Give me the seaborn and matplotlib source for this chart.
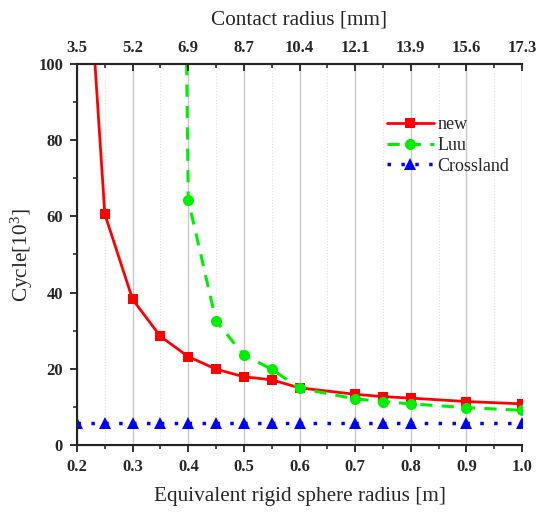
import numpy as np
import pandas as pd
import matplotlib
matplotlib.use("Agg")
import matplotlib.pyplot as plt
import seaborn as sns
from matplotlib.ticker import MultipleLocator, FixedLocator

# sphere radius [m]
radius = [0.2, 0.25, 0.3, 0.35, 0.4, 0.45, 0.5, 0.55, 0.6, 0.7, 0.75, 0.8, 0.9, 1.0]
# cycle [10^3]
cycle_new = [172, 60.6, 38.2, 28.5, 23.2, 19.9, 17.9, 17.1, 15.0, 13.3, 12.7, 12.3, 11.4, 10.8]
cycle_luu = [np.nan, np.nan, np.nan, 680, 64.3, 32.5, 23.6, 19.9, 14.9, 12.1, 11.4, 10.8, 9.8, 9.1]
cycle_crossland = [5.7] * 14

top_ticks = [0.2, 0.3, 0.4, 0.5, 0.6, 0.7, 0.8, 0.9, 1.0]
contact_labels = ["3.5", "5.2", "6.9", "8.7", "10.4", "12.1", "13.9", "15.6", "17.3"]

sns.set_style("ticks")
plt.rcParams["font.family"] = ["Liberation Serif", "DejaVu Serif"]
plt.rcParams["mathtext.fontset"] = "stix"

df = pd.DataFrame({"r": radius, "new": cycle_new, "Luu": cycle_luu, "Crossland": cycle_crossland})

fig = plt.figure(figsize=(5.37, 5.12), dpi=100)
ax = fig.add_axes([0.1434, 0.1309, 0.8287, 0.7441])

sns.lineplot(data=df, x="r", y="new", ax=ax, color="#ff0000", linewidth=2,
             marker="s", markersize=7, markeredgewidth=0, label="new")
sns.lineplot(data=df, x="r", y="Luu", ax=ax, color="#00ee00", linewidth=2.2,
             linestyle=(0, (4, 3)), marker="o", markersize=8, markeredgewidth=0, label="Luu")
sns.lineplot(data=df, x="r", y="Crossland", ax=ax, color="#0000ff", linewidth=2.5,
             linestyle=(0, (1, 3)), marker="^", markersize=8, markeredgewidth=0, label="Crossland")

ax.set_xlim(0.2, 1.0)
ax.set_ylim(0, 100)
ax.xaxis.set_major_locator(MultipleLocator(0.1))
ax.xaxis.set_minor_locator(MultipleLocator(0.05))
ax.yaxis.set_major_locator(MultipleLocator(20))
ax.yaxis.set_minor_locator(MultipleLocator(10))

ax.grid(which="major", axis="x", color="#c8c8c8", linewidth=1, linestyle="-")
ax.grid(which="minor", axis="x", color="#e0e0e0", linewidth=0.8, linestyle=":")
ax.grid(False, axis="y", which="both")

for s in ["left", "bottom", "top"]:
    ax.spines[s].set_linewidth(1.5)
    ax.spines[s].set_color("#222222")
ax.spines["right"].set_visible(False)

ax.tick_params(which="major", direction="out", length=5, width=1.3, color="#222222", pad=5)
ax.tick_params(which="minor", direction="out", length=3, width=1.1, color="#222222")
ax.tick_params(labelsize=12)
ax.set_xticks(top_ticks)
ax.set_xticklabels(["%.1f" % v for v in top_ticks], fontweight="bold", fontsize=12)
for lab in ax.get_yticklabels():
    lab.set_fontweight("bold")

ax.set_xlabel("Equivalent rigid sphere radius [m]", fontsize=15.3, labelpad=9)
ax.set_ylabel(r"Cycle[10$^{\mathregular{3}}$]", fontsize=15.3, labelpad=2)

# top axis: contact radius
ax2 = ax.twiny()
ax2.set_xlim(ax.get_xlim())
ax2.xaxis.set_major_locator(FixedLocator(top_ticks))
ax2.xaxis.set_minor_locator(MultipleLocator(0.05))
ax2.set_xticklabels(contact_labels, fontweight="bold", fontsize=12)
ax2.tick_params(which="major", direction="in", length=5, width=1.3, color="#222222", pad=6)
ax2.tick_params(which="minor", direction="in", length=3, width=1.1, color="#222222")
ax2.spines["right"].set_visible(False)
ax2.spines["top"].set_linewidth(1.5)
ax2.set_xlabel("Contact radius [mm]", fontsize=15.3, labelpad=11)

leg = ax.legend(loc="upper left", bbox_to_anchor=(0.66, 0.905), frameon=False,
                fontsize=13, handlelength=2.6, labelspacing=0.2, handletextpad=0.2)

fig.savefig("out.png", dpi=100)
